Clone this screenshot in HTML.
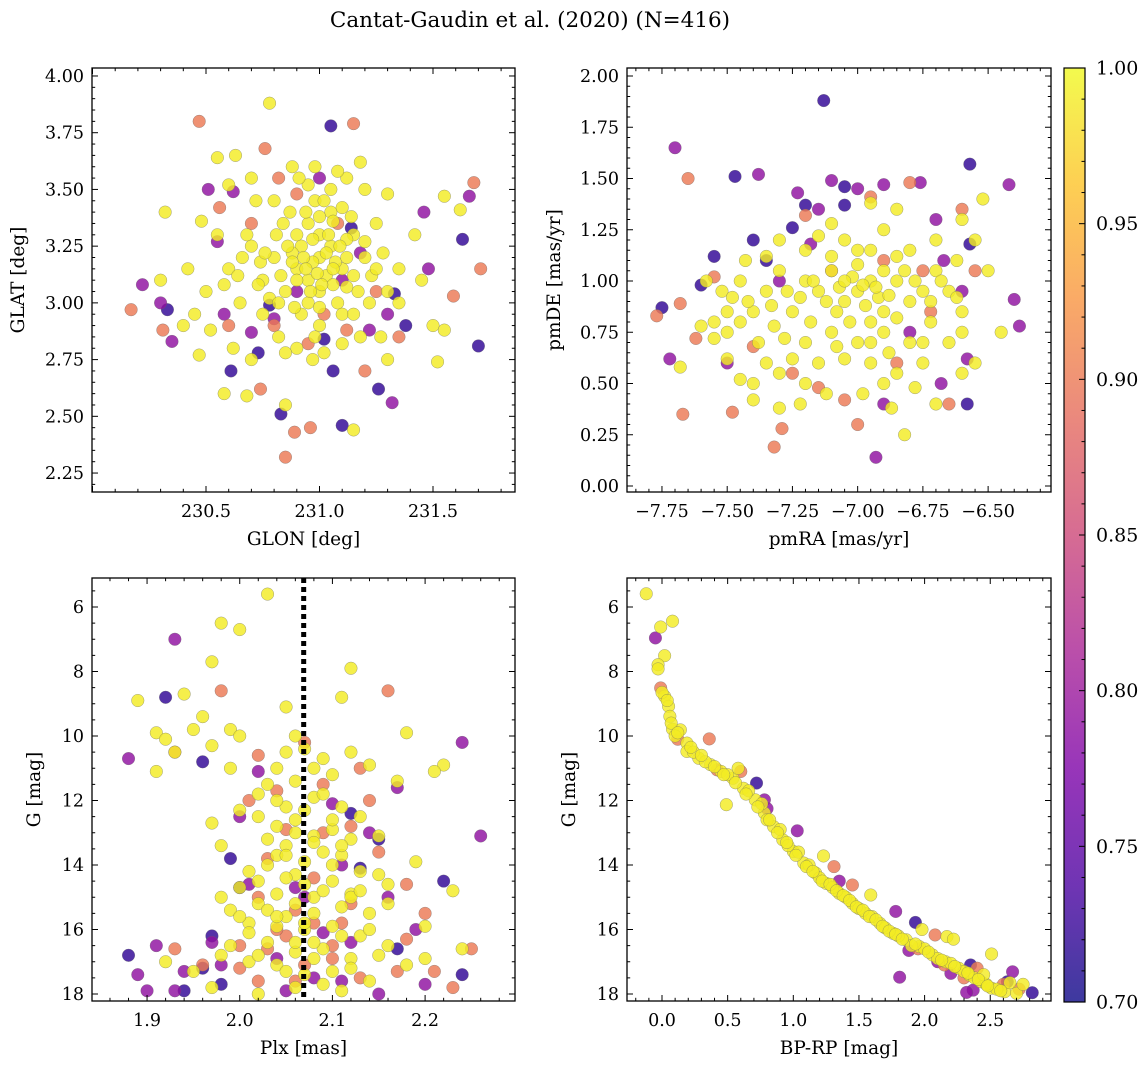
<!DOCTYPE html>
<html><head><meta charset="utf-8"><style>
body{margin:0;background:#fff;}
svg text{font-family:"DejaVu Serif","Liberation Serif",serif;fill:#000;}
</style></head><body>
<svg id="fig" width="1148" height="1068" xmlns="http://www.w3.org/2000/svg">
<defs><linearGradient id="plasma" x1="0" y1="1" x2="0" y2="0">
<stop offset="0" stop-color="#0d0887"/><stop offset="0.125" stop-color="#4c02a1"/><stop offset="0.25" stop-color="#7e03a8"/><stop offset="0.375" stop-color="#a92395"/><stop offset="0.5" stop-color="#cc4778"/><stop offset="0.625" stop-color="#e56b5d"/><stop offset="0.75" stop-color="#f89441"/><stop offset="0.875" stop-color="#fdc328"/><stop offset="1" stop-color="#f0f921"/>
</linearGradient></defs>
<text x="530" y="27" text-anchor="middle" font-size="21.5">Cantat-Gaudin et al. (2020) (N=416)</text>
</svg>
<script>
const probYellow = 0.99, probOrange = 0.90, probPurple = 0.79, probDark = 0.72;
const p1Yellow = [[231.0,3.2],[230.95,3.1],[231.05,3.25],[230.9,3.3],[231.1,3.15],[230.85,3.05],[231.0,3.05],[230.95,3.35],[231.05,3.4],[230.8,3.2],[231.15,3.3],[230.9,3.15],[231.0,3.3],[231.08,3.0],[230.92,2.95],[230.75,3.1],[231.2,3.2],[230.7,3.25],[231.25,3.35],[230.65,3.0],[230.6,3.15],[231.3,3.05],[230.98,3.6],[231.12,3.55],[230.88,3.6],[230.8,3.45],[231.2,3.5],[230.72,3.45],[230.55,3.3],[230.5,3.05],[230.45,2.95],[230.4,2.9],[230.32,3.4],[230.3,3.1],[230.55,3.64],[230.63,3.65],[230.78,3.88],[230.7,3.55],[231.3,3.48],[231.18,3.62],[231.55,3.47],[231.62,3.41],[231.42,3.3],[231.45,3.1],[231.5,2.9],[231.52,2.74],[231.55,2.88],[231.3,2.75],[231.27,2.85],[231.35,3.0],[231.15,2.44],[230.97,2.75],[231.02,2.78],[230.85,2.55],[230.68,2.59],[230.7,2.75],[230.62,2.8],[230.47,2.77],[230.52,2.88],[230.58,2.6],[230.82,2.85],[230.9,2.8],[231.0,2.9],[231.1,2.95],[231.18,2.85],[231.22,3.0],[230.98,3.45],[231.1,3.42],[230.87,3.4],[230.92,3.25],[231.03,3.12],[230.97,3.18],[231.06,3.08],[230.88,3.22],[231.12,3.28],[230.83,3.12],[230.78,3.02],[231.15,3.12],[230.95,3.0],[231.0,3.38],[230.68,3.3],[230.74,3.18],[231.23,3.12],[231.28,3.22],[230.58,3.08],[230.42,3.15],[230.48,3.36],[230.6,3.52],[231.05,3.5],[230.95,3.52]];
const p1YellowCore = [[230.93,3.2],[231.03,3.22],[230.97,3.28],[231.07,3.18],[230.99,3.13],[231.01,3.08],[230.9,3.1],[231.12,3.2],[230.86,3.25],[231.04,3.3],[230.96,3.05],[231.09,3.25],[230.94,3.4],[231.06,3.36],[230.84,3.35],[231.14,3.38],[230.89,2.98],[231.0,2.98],[231.17,3.05],[230.81,3.3],[231.02,3.45],[230.91,3.55],[231.08,3.58],[230.76,3.22],[231.2,3.27],[230.73,3.08],[231.25,3.15],[230.66,3.2],[230.64,3.12],[231.35,3.15],[230.98,2.85],[231.1,2.82],[230.85,2.78],[230.75,2.95],[231.15,2.95],[230.82,3.0],[230.88,3.18],[231.12,3.07],[231.06,3.15],[230.94,3.15]];
const p1Orange = [[230.47,3.8],[231.15,3.79],[230.85,2.32],[230.89,2.43],[230.96,2.45],[230.17,2.97],[231.68,3.53],[231.71,3.15],[231.59,3.03],[230.31,2.88],[230.74,2.62],[230.76,3.68],[230.6,2.9],[230.82,3.55],[231.12,2.88],[230.95,2.82],[230.9,3.48],[231.08,3.35],[231.2,2.7],[231.35,2.85],[230.56,3.42],[230.8,2.9],[231.02,2.95],[231.25,3.05],[230.7,3.35]];
const p1Purple = [[230.22,3.08],[230.51,3.5],[230.30,3.0],[231.32,2.56],[231.46,3.40],[231.48,3.15],[231.66,3.47],[230.55,3.27],[230.35,2.83],[231.0,3.55],[230.9,3.05],[231.18,3.22],[231.3,2.95],[230.62,3.49],[230.8,2.93],[231.1,3.1],[230.7,2.87],[231.22,2.88],[230.58,2.95]];
const p1Dark = [[231.05,3.78],[230.33,2.97],[230.83,2.51],[231.02,2.84],[231.06,2.70],[231.1,2.46],[231.26,2.62],[231.70,2.81],[231.63,3.28],[231.38,2.90],[230.73,2.78],[230.61,2.70],[231.33,3.04],[231.14,3.33],[230.78,2.99]];

const p2Yellow = [[-7.0,0.95],[-6.95,1.0],[-7.05,0.9],[-6.9,0.85],[-7.1,1.05],[-6.85,1.0],[-7.15,0.95],[-6.8,0.9],[-7.2,1.0],[-6.75,0.95],[-7.25,0.85],[-7.3,1.05],[-6.7,1.05],[-6.65,0.95],[-7.35,0.95],[-7.4,0.85],[-7.45,0.8],[-7.5,0.85],[-7.55,0.8],[-6.6,0.85],[-6.9,0.75],[-7.0,0.7],[-7.1,0.75],[-6.8,0.7],[-6.95,0.6],[-7.05,0.62],[-7.15,0.6],[-7.25,0.62],[-6.85,0.55],[-6.75,0.6],[-6.65,0.7],[-7.35,0.6],[-7.4,0.5],[-7.3,0.55],[-7.2,0.5],[-6.6,0.55],[-6.55,0.6],[-6.82,0.25],[-6.87,0.38],[-7.3,0.38],[-7.4,0.42],[-7.45,0.52],[-7.5,0.62],[-7.55,0.72],[-7.6,0.78],[-7.68,0.58],[-6.95,1.15],[-7.05,1.2],[-7.1,1.28],[-6.9,1.25],[-6.85,1.35],[-6.95,1.38],[-7.2,1.15],[-7.3,1.2],[-7.35,1.12],[-6.8,1.15],[-6.7,1.2],[-6.6,1.3],[-6.52,1.4],[-6.55,1.2],[-6.5,1.05],[-6.45,0.75],[-7.0,1.08],[-7.08,0.85],[-6.92,0.92],[-7.18,0.8],[-6.72,0.8],[-7.28,0.72],[-7.38,0.7],[-6.62,1.1],[-7.45,1.0],[-7.52,0.95],[-7.58,1.0],[-7.43,1.1],[-7.12,0.45],[-6.98,0.45],[-6.9,0.5],[-6.78,0.48],[-7.22,0.4],[-6.7,0.4]];
const p2YellowCore = [[-6.98,0.98],[-7.02,1.02],[-6.93,0.97],[-7.07,0.97],[-6.88,0.93],[-7.12,0.9],[-6.97,0.88],[-7.03,0.8],[-6.85,0.82],[-7.17,1.0],[-6.82,1.05],[-7.22,0.92],[-6.78,1.0],[-7.27,0.95],[-6.72,0.9],[-7.33,0.88],[-6.68,1.0],[-7.42,0.9],[-6.62,0.92],[-7.48,0.92],[-6.9,1.05],[-7.1,1.12],[-7.0,1.15],[-6.85,1.12],[-7.15,1.22],[-6.95,0.7],[-7.08,0.68],[-6.88,0.65],[-7.2,0.7],[-6.75,0.7],[-7.32,0.78],[-7.5,0.75],[-6.6,0.75],[-6.95,0.8],[-7.05,1.0]];
const p2Orange = [[-7.77,0.83],[-7.67,0.35],[-7.48,0.36],[-7.32,0.19],[-7.29,0.28],[-7.65,1.5],[-7.68,0.89],[-7.55,1.02],[-7.62,0.72],[-7.25,0.55],[-7.15,0.48],[-7.05,0.42],[-6.8,1.48],[-6.95,1.41],[-7.0,0.3],[-6.65,0.4],[-6.55,1.05],[-6.6,1.35],[-6.75,1.05],[-7.2,1.32],[-7.4,0.68],[-6.85,0.6],[-7.1,1.05],[-6.9,1.1],[-6.72,0.85]];
const p2Purple = [[-7.7,1.65],[-7.72,0.62],[-7.38,1.52],[-7.23,1.43],[-7.1,1.49],[-6.9,1.47],[-6.76,1.48],[-6.42,1.47],[-6.38,0.78],[-6.40,0.91],[-6.9,0.4],[-6.58,0.62],[-7.5,0.6],[-7.3,1.0],[-6.7,1.3],[-7.0,1.45],[-6.67,1.1],[-6.6,0.95],[-7.18,1.18],[-6.8,0.75],[-7.15,1.35],[-6.68,0.5],[-6.93,0.14]];
const p2Dark = [[-7.13,1.88],[-6.57,1.57],[-7.47,1.51],[-7.75,0.87],[-7.6,0.98],[-7.55,1.12],[-7.4,1.2],[-7.35,1.1],[-7.25,1.26],[-7.2,1.37],[-7.05,1.46],[-6.58,0.40],[-6.57,1.18],[-7.05,1.37]];

const p3Yellow = [[2.03,5.6],[1.98,6.5],[2.0,6.7],[1.97,7.7],[1.94,8.7],[1.89,8.9],[2.12,7.9],[2.11,8.8],[2.05,9.1],[1.91,9.9],[1.95,9.8],[1.93,10.5],[1.97,10.3],[1.96,9.4],[1.99,9.8],[1.92,10.1],[1.91,11.1],[2.0,10.0],[2.18,9.9],[2.22,10.9],[2.21,11.1],[2.23,14.8],[2.06,10.0],[2.07,10.4],[2.09,10.7],[2.12,10.5],[2.14,10.9],[2.1,11.2],[2.04,11.0],[2.03,11.5],[2.02,11.8],[2.05,12.2],[2.08,11.9],[2.11,12.2],[2.13,12.5],[2.06,12.6],[2.1,12.9],[2.04,12.8],[2.02,12.5],[2.08,13.1],[2.12,13.2],[2.15,13.1],[2.05,13.4],[2.09,13.6],[2.07,13.9],[2.11,13.7],[2.03,14.0],[2.06,14.3],[2.1,14.5],[2.13,14.2],[2.0,14.7],[1.99,15.4],[2.02,15.2],[2.04,14.9],[2.08,15.0],[2.11,15.3],[2.14,15.5],[2.16,15.2],[2.05,15.6],[2.01,15.8],[2.07,16.0],[2.1,15.9],[2.13,16.2],[2.03,16.4],[2.06,16.7],[2.09,16.6],[2.12,16.9],[2.15,16.8],[2.04,17.1],[2.07,17.4],[2.1,17.3],[2.01,17.0],[1.99,16.5],[1.97,17.8],[1.95,17.3],[1.92,17.0],[2.18,17.1],[2.2,16.9],[2.24,16.6],[2.06,17.8],[2.11,17.9],[2.02,18.0],[2.0,12.3],[1.97,12.7],[1.98,13.4],[1.99,11.0],[2.17,11.4],[2.19,13.9],[2.16,14.6],[2.2,15.9],[1.98,15.0],[2.04,13.7],[2.12,14.9],[2.08,16.4],[2.14,17.6],[2.01,14.2]];
const p3YellowCore = [[2.05,10.5],[2.08,11.0],[2.06,11.4],[2.09,11.8],[2.07,12.3],[2.04,12.0],[2.1,12.6],[2.06,13.0],[2.08,13.3],[2.05,13.7],[2.1,14.0],[2.07,14.6],[2.05,14.4],[2.09,14.8],[2.06,15.2],[2.08,15.5],[2.04,15.9],[2.11,16.2],[2.06,16.4],[2.08,16.9],[2.05,17.3],[2.09,17.7],[2.07,15.8],[2.03,15.4],[2.12,15.0],[2.11,13.4],[2.03,13.2],[2.13,14.8],[2.02,16.8],[2.12,17.2],[2.14,16.0],[2.01,16.1],[2.0,15.6],[2.15,14.3],[2.16,16.5],[1.98,16.8],[2.02,14.5],[2.04,15.6]];
const p3Orange = [[1.98,8.6],[1.93,10.5],[2.16,8.6],[2.02,10.6],[2.04,11.7],[2.07,10.2],[2.09,11.5],[2.13,11.0],[2.01,12.0],[2.05,12.9],[2.12,12.8],[2.03,13.8],[2.08,14.4],[2.15,13.6],[2.18,14.6],[2.2,15.5],[2.02,15.0],[2.06,15.4],[2.11,15.8],[2.0,16.5],[2.05,16.2],[2.1,16.9],[1.93,16.6],[1.96,17.1],[2.17,17.3],[2.21,17.3],[2.25,16.6],[2.07,17.1],[2.13,17.5],[2.18,16.3],[2.02,17.6],[2.23,17.8],[2.0,17.2],[2.14,12.0],[2.09,13.0],[2.04,16.0],[2.08,15.8],[2.1,16.5],[2.06,17.6],[2.12,15.2],[2.03,16.6]];
const p3Purple = [[1.93,7.0],[1.88,10.7],[2.02,11.1],[2.0,12.5],[2.26,13.1],[2.24,10.2],[2.14,13.0],[2.1,12.1],[2.06,14.7],[2.16,15.0],[2.19,16.0],[1.89,17.4],[1.91,16.5],[1.94,17.3],[1.97,16.4],[1.98,17.1],[2.08,17.5],[2.12,16.4],[2.15,18.0],[2.2,17.7],[2.01,14.6],[2.04,16.9],[1.9,17.9],[1.93,17.9],[2.17,11.6],[2.11,14.0],[2.05,17.9],[2.09,16.1],[2.11,17.6],[2.07,15.0]];
const p3Dark = [[1.92,8.8],[1.96,10.8],[1.99,13.8],[2.0,14.7],[1.97,16.2],[1.96,17.2],[1.98,17.7],[1.88,16.8],[1.94,17.9],[2.13,14.1],[2.15,13.2],[2.22,14.5],[2.24,17.4],[2.12,12.4],[2.17,16.6]];
const plxMean = 2.069;

const p4Yellow = [[-0.12,5.59],[0.08,6.44],[-0.01,6.62],[0.02,7.51],[-0.03,7.79],[-0.03,7.92],[0.02,8.77],[0.0,8.65],[0.05,9.08],[0.06,9.39],[0.08,9.79],[0.14,9.81],[0.19,10.22],[0.19,10.48],[0.28,10.69],[0.37,10.89],[0.45,11.1],[0.54,11.31],[0.62,11.62],[0.71,11.98],[0.78,12.39],[0.85,12.81],[0.92,13.22],[1.0,13.58],[1.08,13.94],[1.17,14.25],[1.25,14.57],[1.35,14.88],[1.45,15.19],[1.55,15.5],[1.66,15.81],[1.76,16.12],[1.86,16.32],[1.96,16.53],[2.06,16.79],[2.16,17.0],[2.26,17.2],[2.34,17.41],[2.43,17.62],[2.51,17.82],[2.61,17.93],[2.7,17.98],[0.1,10.0],[0.24,10.5],[0.33,10.8],[0.5,11.2],[0.58,11.0],[0.66,11.7],[0.76,12.1],[0.8,12.6],[0.9,12.9],[0.96,13.4],[1.04,13.6],[1.12,14.0],[1.2,14.4],[1.3,14.7],[1.4,15.0],[1.5,15.35],[1.6,15.6],[1.7,15.95],[1.8,16.2],[1.9,16.5],[2.0,16.6],[2.1,16.9],[2.2,17.05],[2.3,17.3],[2.38,17.5],[2.47,17.7],[2.55,17.85],[0.49,12.13],[1.23,13.72],[1.59,14.93],[2.51,16.76],[2.17,16.22],[2.22,16.3],[1.98,16.0],[2.45,17.4],[2.65,17.65],[2.75,17.7]];
const p4YellowCore = [[0.04,8.9],[0.07,9.6],[0.12,9.9],[0.22,10.35],[0.3,10.6],[0.4,10.95],[0.47,11.2],[0.56,11.45],[0.64,11.8],[0.73,12.2],[0.82,12.6],[0.88,13.0],[0.95,13.3],[1.02,13.7],[1.1,14.05],[1.15,14.2],[1.22,14.5],[1.28,14.6],[1.33,14.8],[1.38,14.95],[1.43,15.1],[1.48,15.3],[1.53,15.4],[1.58,15.6],[1.63,15.7],[1.68,15.9],[1.73,16.05],[1.78,16.15],[1.83,16.3],[1.93,16.45],[2.03,16.7],[2.13,16.95],[2.23,17.15],[2.33,17.35],[2.41,17.55],[2.48,17.75],[2.58,17.9]];
const p4Orange = [[-0.01,8.51],[0.36,10.09],[1.31,14.05],[1.45,14.62],[2.08,16.17],[0.6,11.1],[0.12,10.1],[2.4,17.2],[2.6,17.7],[2.3,17.5],[1.95,16.6],[2.72,17.85],[2.15,17.1],[0.42,11.05]];
const p4Purple = [[-0.05,6.96],[0.78,11.98],[1.03,12.94],[1.78,15.44],[1.81,17.48],[2.67,17.31],[2.2,17.36],[2.37,17.88],[0.8,12.25],[1.88,16.65],[2.1,17.0],[2.32,17.95],[1.35,14.5]];
const p4Dark = [[0.72,11.46],[1.93,15.78],[2.82,17.96],[2.63,17.62],[2.35,17.1]];

const p1XTicks = [230.5,231.0,231.5], p1YTicks = [2.25,2.5,2.75,3.0,3.25,3.5,3.75,4.0];
const p2XTicks = [-7.75,-7.5,-7.25,-7.0,-6.75,-6.5], p2YTicks = [0,0.25,0.5,0.75,1.0,1.25,1.5,1.75,2.0];
const p3XTicks = [1.9,2.0,2.1,2.2], gTicks = [6,8,10,12,14,16,18];
const p4XTicks = [0.0,0.5,1.0,1.5,2.0,2.5];
const cbTicks = [0.70,0.75,0.80,0.85,0.90,0.95,1.00];

const svg = document.getElementById('fig');
const NS = 'http://www.w3.org/2000/svg';
function mk(tag, attrs, parent){const e=document.createElementNS(NS,tag);for(const k in attrs)e.setAttribute(k,attrs[k]);(parent||svg).appendChild(e);return e;}
const stops=[[0,[13,8,135]],[0.125,[76,2,161]],[0.25,[126,3,168]],[0.375,[169,35,149]],[0.5,[204,71,120]],[0.625,[229,107,93]],[0.75,[248,148,65]],[0.875,[253,195,40]],[1,[240,249,33]]];
function plasma(p){let t=(p-0.7)/0.3;t=Math.max(0,Math.min(1,t));for(let i=1;i<stops.length;i++){if(t<=stops[i][0]){const a=stops[i-1],b=stops[i];const f=(t-a[0])/(b[0]-a[0]);const c=a[1].map((v,j)=>Math.round(v+(b[1][j]-v)*f));return `rgb(${c.join(',')})`;}}return 'rgb(240,249,33)';}

function panel(cfg){
  const g=mk('g',{});
  
  
  const sx=v=>cfg.px0+(v-cfg.xmin)/(cfg.xmax-cfg.xmin)*(cfg.px1-cfg.px0);
  const sy=v=>cfg.py1-(v-cfg.ymin)/(cfg.ymax-cfg.ymin)*(cfg.py1-cfg.py0);
  const syG=cfg.invert?(v=>cfg.py0+(v-cfg.ymin)/(cfg.ymax-cfg.ymin)*(cfg.py1-cfg.py0)):sy;
  const clipId='clip-'+cfg.name;
  const cp=mk('clipPath',{id:clipId},g);mk('rect',{x:cfg.px0,y:cfg.py0,width:cfg.px1-cfg.px0,height:cfg.py1-cfg.py0},cp);
  const pts=mk('g',{'clip-path':`url(#${clipId})`},g);
  
  
  const groups=[[cfg.dark,probDark],[cfg.purple,probPurple],[cfg.orange,probOrange],[cfg.yellow,probYellow]];
  groups.forEach(([arr,p])=>arr.forEach(d=>{
    const c=mk('circle',{cx:sx(d[0]),cy:syG(d[1]),r:6.3,fill:plasma(p),'fill-opacity':0.82,stroke:'#666','stroke-width':0.5,'stroke-opacity':0.6},pts);
    
    
  }));
  if(cfg.vline!==undefined){const l=mk('line',{x1:sx(cfg.vline),x2:sx(cfg.vline),y1:cfg.py0,y2:cfg.py1,stroke:'#000','stroke-width':5,'stroke-dasharray':'5,4'},g);
    
    }
  const fr=mk('rect',{x:cfg.px0,y:cfg.py0,width:cfg.px1-cfg.px0,height:cfg.py1-cfg.py0,fill:'none',stroke:'#000','stroke-width':1.3},g);
  
  
  const eps=1e-9;
  for(let v=Math.ceil(cfg.xmin/cfg.xminor-eps)*cfg.xminor; v<=cfg.xmax+eps; v+=cfg.xminor){
    const vv=Math.round(v/cfg.xminor)*cfg.xminor;const isMaj=Math.abs(vv/cfg.xmajor-Math.round(vv/cfg.xmajor))<1e-6;const L=isMaj?6:3.2;const X=sx(vv);
    mk('line',{x1:X,x2:X,y1:cfg.py1,y2:cfg.py1-L,stroke:'#000','stroke-width':1},g);
    mk('line',{x1:X,x2:X,y1:cfg.py0,y2:cfg.py0+L,stroke:'#000','stroke-width':1},g);
  }
  for(let v=Math.ceil(cfg.ymin/cfg.yminor-eps)*cfg.yminor; v<=cfg.ymax+eps; v+=cfg.yminor){
    const vv=Math.round(v/cfg.yminor)*cfg.yminor;const isMaj=Math.abs(vv/cfg.ymajor-Math.round(vv/cfg.ymajor))<1e-6;const L=isMaj?6:3.2;const Y=syG(vv);
    mk('line',{x1:cfg.px0,x2:cfg.px0+L,y1:Y,y2:Y,stroke:'#000','stroke-width':1},g);
    mk('line',{x1:cfg.px1,x2:cfg.px1-L,y1:Y,y2:Y,stroke:'#000','stroke-width':1},g);
  }
  cfg.xticks.forEach(v=>{const t=mk('text',{x:sx(v),y:cfg.py1+25,'text-anchor':'middle','font-size':17.5},g);t.textContent=(v<0?'\u2212':'')+Math.abs(v).toFixed(cfg.xdec);
    
    });
  cfg.yticks.forEach(v=>{const t=mk('text',{x:cfg.px0-8,y:syG(v)+6,'text-anchor':'end','font-size':17.5},g);t.textContent=v.toFixed(cfg.ydec);
    
    });
  const xl=mk('text',{x:(cfg.px0+cfg.px1)/2,y:cfg.py1+53,'text-anchor':'middle','font-size':18.5},g);xl.textContent=cfg.xlabel;
  
  
  const yc=(cfg.py0+cfg.py1)/2;
  const yl=mk('text',{x:cfg.ylx,y:yc,'text-anchor':'middle','font-size':18.5,transform:`rotate(-90 ${cfg.ylx} ${yc})`},g);yl.textContent=cfg.ylabel;
  
  
}
panel({name:'glon-glat-panel',px0:92,px1:515,py0:68,py1:492,xmin:230.5-114/227,xmax:231.5+82/227,ymin:2.25-19/227.4,ymax:4.0+8/227.4,xmajor:0.5,xminor:0.1,ymajor:0.25,yminor:0.05,xticks:p1XTicks,yticks:p1YTicks,xdec:1,ydec:2,xlabel:'GLON [deg]',ylabel:'GLAT [deg]',ylx:24,yellow:p1Yellow.concat(p1YellowCore),orange:p1Orange,purple:p1Purple,dark:p1Dark});
panel({name:'proper-motion-panel',px0:627,px1:1051,py0:68,py1:492,xmin:-7.884,xmax:-6.259,ymin:-6/205,ymax:2.0+8/205,xmajor:0.25,xminor:0.05,ymajor:0.25,yminor:0.05,xticks:p2XTicks,yticks:p2YTicks,xdec:2,ydec:2,xlabel:'pmRA [mas/yr]',ylabel:'pmDE [mas/yr]',ylx:560,yellow:p2Yellow.concat(p2YellowCore),orange:p2Orange,purple:p2Purple,dark:p2Dark});
panel({name:'parallax-magnitude-panel',px0:92,px1:515,py0:578,py1:1001,xmin:1.8406,xmax:2.297,ymin:6-29/32.25,ymax:18+7/32.25,invert:true,xmajor:0.1,xminor:0.02,ymajor:2,yminor:0.5,xticks:p3XTicks,yticks:gTicks,xdec:1,ydec:0,xlabel:'Plx [mas]',ylabel:'G [mag]',ylx:40,yellow:p3Yellow.concat(p3YellowCore),orange:p3Orange,purple:p3Purple,dark:p3Dark,vline:plxMean});
panel({name:'color-magnitude-panel',px0:627,px1:1051,py0:578,py1:1001,xmin:-35/131.3,xmax:389/131.3,ymin:6-29/32.25,ymax:18+7/32.25,invert:true,xmajor:0.5,xminor:0.1,ymajor:2,yminor:0.5,xticks:p4XTicks,yticks:gTicks,xdec:1,ydec:0,xlabel:'BP-RP [mag]',ylabel:'G [mag]',ylx:575,yellow:p4Yellow.concat(p4YellowCore),orange:p4Orange,purple:p4Purple,dark:p4Dark});

const cb=mk('g',{});


const cx0=1064,cx1=1085,cy0=68,cy1=1002;
mk('rect',{x:cx0,y:cy0,width:cx1-cx0,height:cy1-cy0,fill:'url(#plasma)','fill-opacity':0.8},cb);
mk('rect',{x:cx0,y:cy0,width:cx1-cx0,height:cy1-cy0,fill:'none',stroke:'#000','stroke-width':1.2},cb);
const cby=v=>cy1-(v-0.7)/0.3*(cy1-cy0);
for(let i=70;i<=100;i++){const v=i/100;const maj=i%5===0;mk('line',{x1:cx1,x2:cx1-(maj?6:3.5),y1:cby(v),y2:cby(v),stroke:'#000','stroke-width':1},cb);}
cbTicks.forEach(v=>{const t=mk('text',{x:1096,y:cby(v)+6.5,'font-size':19},cb);t.textContent=v.toFixed(2);
  
  });
</script>
</body></html>
